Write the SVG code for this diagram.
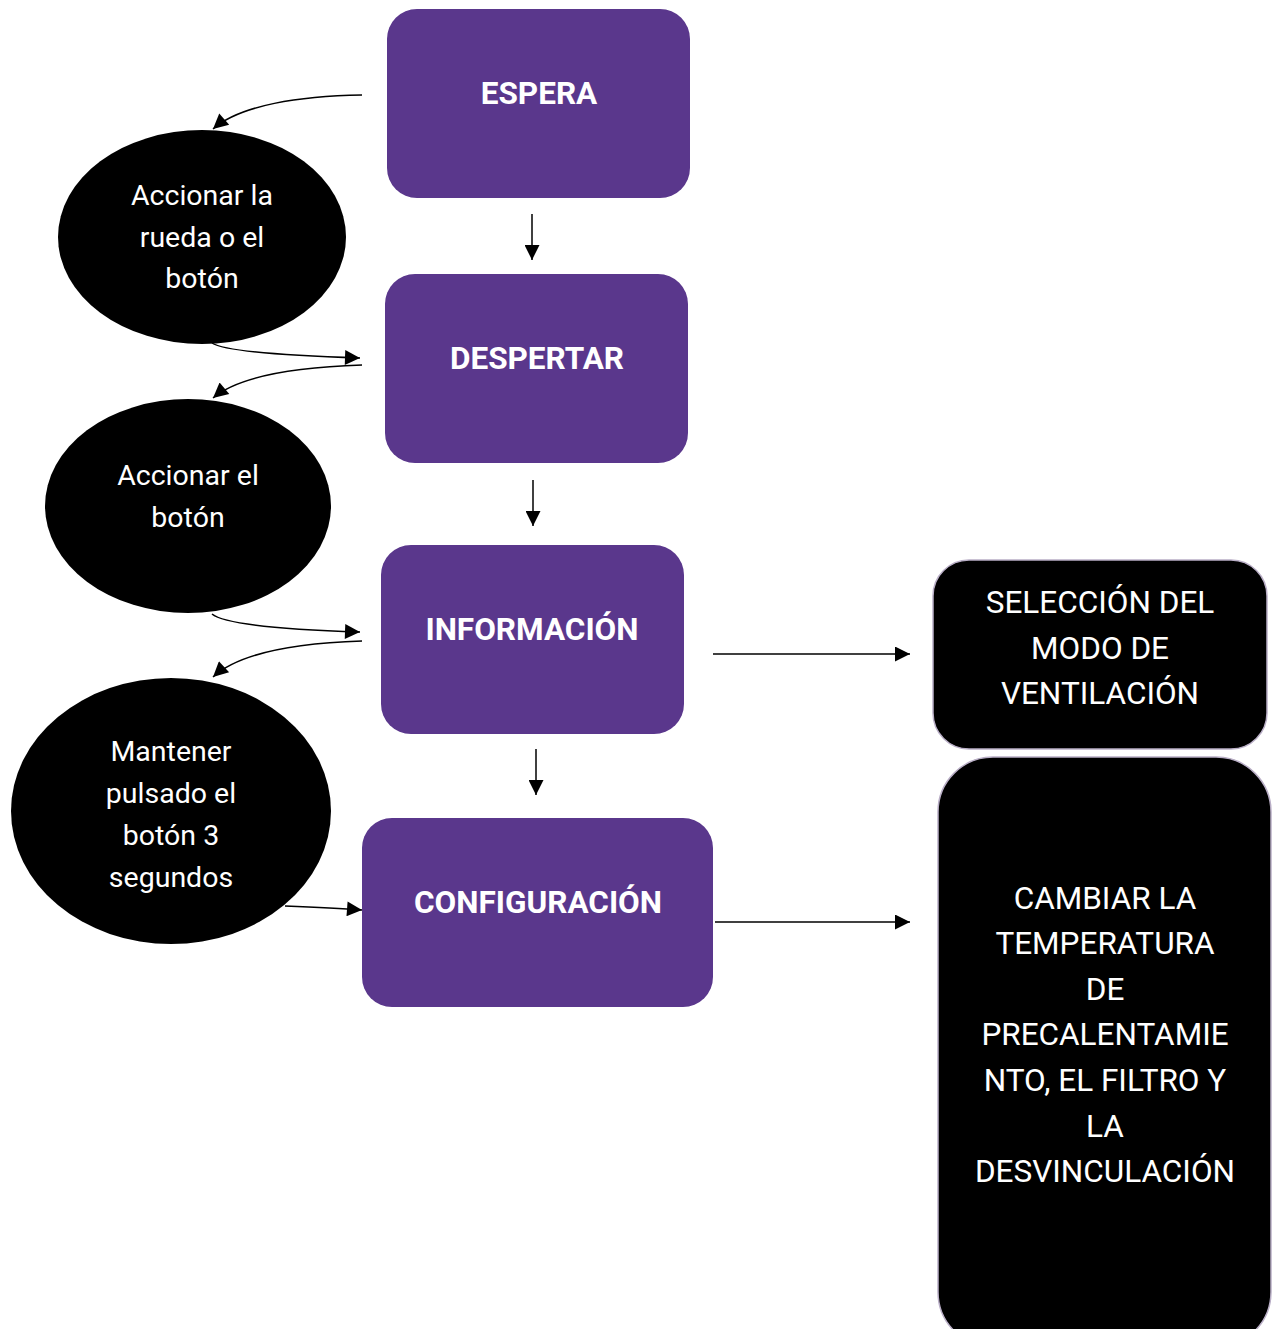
<svg xmlns="http://www.w3.org/2000/svg" width="1280" height="1329" viewBox="0 0 1280 1329">
<defs>
<marker id="ah" viewBox="0 0 10 10" refX="10" refY="5" markerWidth="17" markerHeight="15" markerUnits="userSpaceOnUse" orient="auto">
<path d="M0,0 L10,5 L0,10 z" fill="#000"/>
</marker>
<style>
.state{fill:#5A378C;}
.stxt{font-family:Roboto,"Liberation Sans",sans-serif;font-weight:bold;font-size:31.5px;fill:#fff;text-anchor:middle;}
.ev{fill:#000;}
.etxt{font-family:Roboto,"Liberation Sans",sans-serif;font-size:28.5px;fill:#fff;text-anchor:middle;}
.box{fill:#000;stroke:#b9aec6;stroke-width:1.5;}
.btxt{font-family:Roboto,"Liberation Sans",sans-serif;font-size:31.5px;fill:#fff;text-anchor:middle;}
.conn{fill:none;stroke:#000;stroke-width:1.5;marker-end:url(#ah);}
</style>
</defs>
<rect width="1280" height="1329" fill="#fff"/>
<g id="espera"><rect class="state" x="387" y="9" width="303" height="189" rx="30"/><text class="stxt" x="539" y="104">ESPERA</text></g>
<g id="despertar"><rect class="state" x="385" y="274" width="303" height="189" rx="30"/><text class="stxt" x="537" y="369">DESPERTAR</text></g>
<g id="informacion"><rect class="state" x="381" y="545" width="303" height="189" rx="30"/><text class="stxt" x="532" y="640">INFORMACIÓN</text></g>
<g id="configuracion"><rect class="state" x="362" y="818" width="351" height="189" rx="30"/><text class="stxt" x="538" y="913">CONFIGURACIÓN</text></g>
<g id="ev1"><ellipse class="ev" cx="202" cy="237" rx="144" ry="107"/><text class="etxt"><tspan x="202" y="205">Accionar la</tspan><tspan x="202" y="247">rueda o el</tspan><tspan x="202" y="288">botón</tspan></text></g>
<g id="ev2"><ellipse class="ev" cx="188" cy="506" rx="143" ry="107"/><text class="etxt"><tspan x="188" y="485">Accionar el</tspan><tspan x="188" y="527">botón</tspan></text></g>
<g id="ev3"><ellipse class="ev" cx="171" cy="811" rx="160" ry="133"/><text class="etxt"><tspan x="171" y="761">Mantener</tspan><tspan x="171" y="803">pulsado el</tspan><tspan x="171" y="845">botón 3</tspan><tspan x="171" y="887">segundos</tspan></text></g>
<g id="modo"><rect class="box" x="933" y="560" width="334" height="189" rx="36"/><text class="btxt"><tspan x="1100" y="613">SELECCIÓN DEL</tspan><tspan x="1100" y="659">MODO DE</tspan><tspan x="1100" y="704">VENTILACIÓN</tspan></text></g>
<g id="cambiar"><rect class="box" x="938" y="757" width="333" height="590" rx="55"/><text class="btxt"><tspan x="1105" y="909">CAMBIAR LA</tspan><tspan x="1105" y="954">TEMPERATURA</tspan><tspan x="1105" y="1000">DE</tspan><tspan x="1105" y="1045">PRECALENTAMIE</tspan><tspan x="1105" y="1091">NTO, EL FILTRO Y</tspan><tspan x="1105" y="1137">LA</tspan><tspan x="1105" y="1182">DESVINCULACIÓN</tspan></text></g>
<g id="connectors">
<path class="conn" d="M362,95 C300,96 240,105 213,129"/>
<path class="conn" d="M532,214 L532,260"/>
<path class="conn" d="M212,343 C225,352 300,356 360,358"/>
<path class="conn" d="M362,365 C300,367 240,375 213,398"/>
<path class="conn" d="M533,480 L533,526"/>
<path class="conn" d="M212,614 C225,625 300,630 360,632"/>
<path class="conn" d="M362,641 C300,643 240,652 213,677"/>
<path class="conn" d="M536,749 L536,795"/>
<path class="conn" d="M285,906 C310,907 335,908 362,910"/>
<path class="conn" d="M713,654 L910,654"/>
<path class="conn" d="M715,922 L910,922"/>
</g>
</svg>
